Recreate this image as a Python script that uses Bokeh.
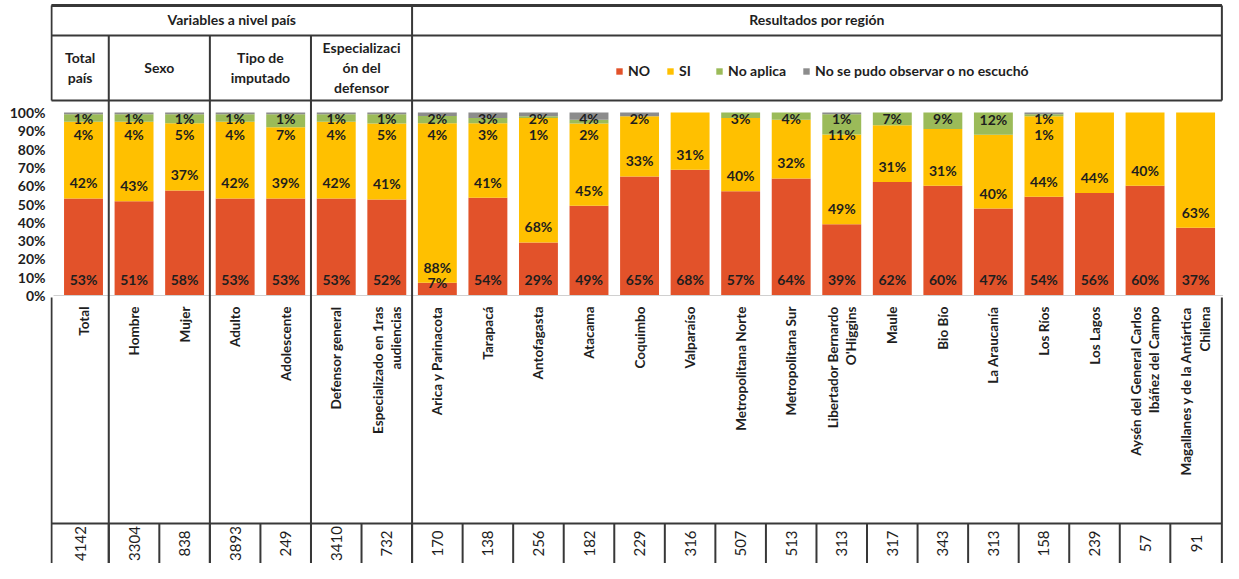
import numpy as np
from bokeh.plotting import figure
from bokeh.models import Range1d, FixedTicker, PrintfTickFormatter, ColumnDataSource
from bokeh.core.properties import value
from bokeh.embed import file_html
from bokeh.resources import INLINE

# ---------------- data ----------------
categories = ["Total", "Hombre", "Mujer", "Adulto", "Adolescente", "Defensor general",
              "Especializado en 1ras\naudiencias", "Arica y Parinacota", "Tarapacá",
              "Antofagasta", "Atacama", "Coquimbo", "Valparaíso", "Metropolitana Norte",
              "Metropolitana Sur", "Libertador Bernardo\nO'Higgins", "Maule", "Bio Bío",
              "La Araucanía", "Los Ríos", "Los Lagos",
              "Aysén del General Carlos\nIbáñez del Campo",
              "Magallanes y de la Antártica\nChilena"]
no_vals = [53, 51, 58, 53, 53, 53, 52, 7, 54, 29, 49, 65, 68, 57, 64, 39, 62, 60, 47, 54, 56, 60, 37]
si_vals = [42, 43, 37, 42, 39, 42, 41, 88, 41, 68, 45, 33, 31, 40, 32, 49, 31, 31, 40, 44, 44, 40, 63]
na_vals = [4, 4, 5, 4, 7, 4, 5, 4, 3, 1, 2, 0, 0, 3, 4, 11, 7, 9, 12, 1, 0, 0, 0]
ns_vals = [1, 1, 1, 1, 1, 1, 1, 2, 3, 2, 4, 2, 0, 0, 0, 1, 0, 0, 0, 1, 0, 0, 0]
counts = [4142, 3304, 838, 3893, 249, 3410, 732, 170, 138, 256, 182, 229, 316, 507, 513,
          313, 317, 343, 313, 158, 239, 57, 91]
series_names = ["NO", "SI", "No aplica", "No se pudo observar o no escuchó"]
section_labels = ["Variables a nivel país", "Resultados por región"]
section_spans = [(0, 6), (7, 22)]
group_labels = ["Total\npaís", "Sexo", "Tipo de\nimputado", "Especializaci\nón del\ndefensor"]
group_spans = [(0, 0), (1, 2), (3, 4), (5, 6)]
colors = ["#E2522A", "#FFC000", "#9BBB59", "#8C8C8C"]

FONT = "Lato"
INK = "#1e1e1e"
LINE = "#383838"

# ------------- geometry helpers (picture px -> data units) -------------
W, H = 1223, 563
LB = 50                  # left border of the frame
X0, DX = 83.0, 50.55     # x of first column centre, px per column
Y0, DY = 295.0, 1.83     # y of 0 %, px per percent


def X(px):
    return (px - X0) / DX


def Y(py):
    return (Y0 - py) / DY


n = len(categories)
idx = np.arange(n)
raw = np.array([no_vals, si_vals, na_vals, ns_vals], dtype=float)
tot = raw.sum(axis=0)
norm = raw / tot * 100.0

keys = ["no", "si", "na", "ns"]
src = ColumnDataSource({"x": idx, **{k: norm[j] for j, k in enumerate(keys)}})

p = figure(width=W, height=H, output_backend="svg", toolbar_location=None,
           x_range=Range1d(X(LB), X(W)), y_range=Range1d(Y(H), Y(0)),
           x_axis_location=None, min_border_left=LB, min_border_right=0,
           min_border_top=0, min_border_bottom=0, outline_line_color=None,
           background_fill_color="white", border_fill_color="white")
p.grid.visible = False

rs = p.vbar_stack(keys, x="x", width=0.77, color=colors, source=src,
                  line_color=None, legend_label=series_names)

# y axis
ya = p.yaxis[0]
ya.ticker = FixedTicker(ticks=list(range(0, 101, 10)))
ya.formatter = PrintfTickFormatter(format="%d%%")
ya.axis_line_color = None
ya.major_tick_line_color = None
ya.major_tick_out = 0
ya.major_tick_in = 0
ya.minor_tick_line_color = None
ya.minor_tick_out = 0
ya.major_label_standoff = 5
ya.major_label_text_font = FONT
ya.major_label_text_font_style = "bold"
ya.major_label_text_font_size = "14px"
ya.major_label_text_color = INK

# baseline
p.segment(x0=[X(53)], y0=[0], x1=[X(W)], y1=[0], line_color="#d0d0d0", line_width=1)

# ------------- data labels ("inside base" with top clamping) -------------
lx, ly, lt = [], [], []
for i in range(n):
    labs = []
    base = 0.0
    for j in range(4):
        if raw[j, i] > 0:
            labs.append([base + 8.5, "%d%%" % raw[j, i]])
        base += norm[j, i]
    cap = 96.5
    for lab in reversed(labs):
        lab[0] = min(lab[0], cap)
        cap = lab[0] - 8.5
    for yv, t in labs:
        lx.append(i)
        ly.append(yv)
        lt.append(t)
p.text(x=lx, y=ly, text=lt, text_align="center", text_baseline="middle",
       text_font=value(FONT), text_font_style="bold", text_font_size="14px",
       text_color=INK)

# ------------- table lines -------------
LEFT = LB + 1
RIGHT = X0 + DX * (n - 0.5) + 1
TOP = 5
ROW_TOP = 523
sep_sub = [X0 + DX * (a + 0.5) for a in [0, 2, 4]]
sep_main = X0 + DX * 6.5
segs = []
for yy in [TOP, 35, 100, ROW_TOP]:
    segs.append((LEFT, yy, RIGHT, yy))
for xx in [LEFT, RIGHT]:
    segs.append((xx, TOP, xx, 100))
    segs.append((xx, 297, xx, H))
for xx in sep_sub:
    segs.append((xx, 35, xx, H))
segs.append((sep_main, TOP, sep_main, H))
for i in range(n - 1):
    xx = X0 + DX * (i + 0.5)
    segs.append((xx, ROW_TOP, xx, H))
p.segment(x0=[X(s[0]) for s in segs], y0=[Y(s[1]) for s in segs],
          x1=[X(s[2]) for s in segs], y1=[Y(s[3]) for s in segs],
          line_color=LINE, line_width=2)
# heavier top rule as in the reference
p.segment(x0=[X(LEFT)], y0=[Y(TOP)], x1=[X(RIGHT)], y1=[Y(TOP)],
          line_color=LINE, line_width=3)


# ------------- header texts -------------
def span_center(a, b):
    left = X(LEFT) if a == 0 else a - 0.5
    right = X(RIGHT) if b == n - 1 else b + 0.5
    return (left + right) / 2


p.text(x=[span_center(a, b) for a, b in section_spans], y=[Y(19)] * 2, text=section_labels,
       text_align="center", text_baseline="middle", text_font=value(FONT),
       text_font_style="bold", text_font_size="14px", text_color=INK)
p.text(x=[span_center(a, b) for a, b in group_spans], y=[Y(67)] * 4, text=group_labels,
       text_align="center", text_baseline="middle", text_font=value(FONT),
       text_font_style="bold", text_font_size="14px", text_color=INK,
       text_line_height=1.15)

# ------------- category labels -------------
p.text(x=idx, y=[Y(306)] * n, text=categories, angle=np.pi / 2,
       text_align="right", text_baseline="middle", text_font=value(FONT),
       text_font_style="bold", text_font_size="13.5px", text_color=INK,
       text_line_height=1.15)

# ------------- counts row -------------
cx = [span_center(i, i) for i in range(n)]
p.text(x=cx, y=[Y(543)] * n, text=[str(c) for c in counts], angle=np.pi / 2,
       text_align="center", text_baseline="middle", text_font=value(FONT),
       text_font_size="15px", text_color=INK)

# ------------- legend -------------
lg = p.legend[0]
lg.orientation = "horizontal"
lg.location = (565, 484)
lg.border_line_color = None
lg.background_fill_alpha = 0
lg.glyph_width = 8
lg.glyph_height = 8
lg.label_standoff = 5
lg.spacing = 16
lg.padding = 0
lg.margin = 0
lg.label_text_font = FONT
lg.label_text_font_style = "bold"
lg.label_text_font_size = "14px"
lg.label_text_color = INK
lg.label_height = 16

open("out.html", "w").write(file_html(p, INLINE))
